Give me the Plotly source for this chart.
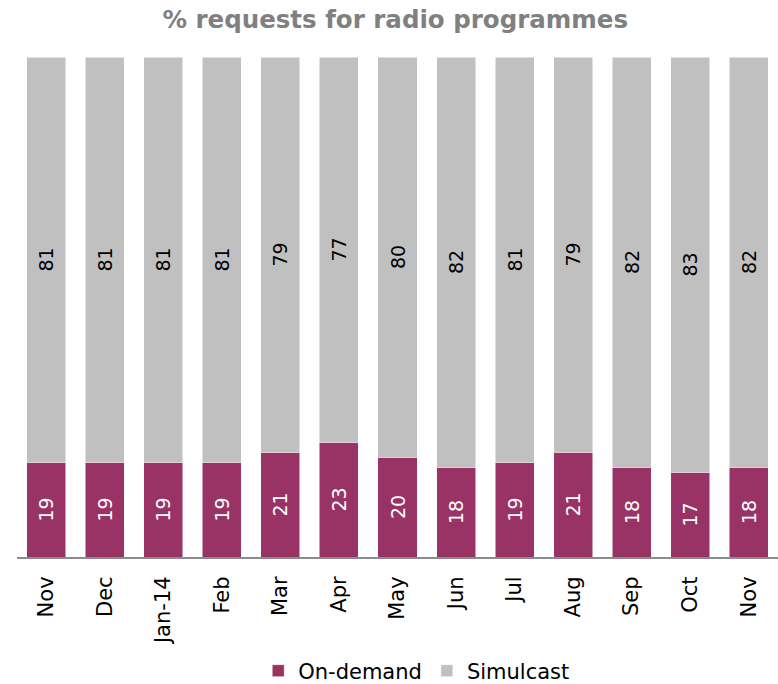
import plotly.graph_objects as go

# Monthly share of radio programme requests (%)
months = ["Nov", "Dec", "Jan-14", "Feb", "Mar", "Apr", "May", "Jun", "Jul", "Aug", "Sep", "Oct", "Nov"]
on_demand = [19, 19, 19, 19, 21, 23, 20, 18, 19, 21, 18, 17, 18]
simulcast = [81, 81, 81, 81, 79, 77, 80, 82, 81, 79, 82, 83, 82]

FONT = "DejaVu Sans, sans-serif"
x_pos = list(range(len(months)))

fig = go.Figure()
fig.add_trace(go.Bar(
    x=x_pos, y=on_demand, name="On-demand",
    marker=dict(color="#993366", line=dict(color="white", width=0.5)),
    text=[str(v) for v in on_demand], textposition="inside", insidetextanchor="middle",
    textangle=-90, textfont=dict(color="white", size=19, family=FONT),
))
fig.add_trace(go.Bar(
    x=x_pos, y=simulcast, name="Simulcast",
    marker=dict(color="#C0C0C0", line=dict(color="white", width=0.5)),
    text=[str(v) for v in simulcast], textposition="inside", insidetextanchor="middle",
    textangle=-90, textfont=dict(color="black", size=19, family=FONT),
))

fig.update_layout(
    barmode="stack",
    bargap=0.333,
    width=778, height=684,
    margin=dict(l=17, r=0, t=57, b=127, autoexpand=False),
    paper_bgcolor="white", plot_bgcolor="white",
    font=dict(family=FONT, color="black"),
    title=dict(
        text="<b>% requests for radio programmes</b>",
        x=0.508, xanchor="center", y=0.972, yanchor="middle",
        font=dict(size=24.5, color="#808080", family=FONT),
    ),
    xaxis=dict(
        tickmode="array", tickvals=x_pos, ticktext=months,
        tickangle=-90, tickfont=dict(size=21, color="black"),
        showline=True, linecolor="#8C8C8C", linewidth=2,
        showgrid=False, ticks="outside", ticklen=9, tickcolor="rgba(0,0,0,0)",
        range=[-0.5, len(months) - 0.5],
    ),
    yaxis=dict(range=[0, 100], visible=False, showgrid=False),
    legend=dict(
        orientation="h", x=0.317, xanchor="left", y=-0.228, yanchor="middle",
        font=dict(size=21, color="black"), traceorder="normal",
        itemwidth=30,
    ),
    showlegend=True,
)

fig.write_html("out.html")
